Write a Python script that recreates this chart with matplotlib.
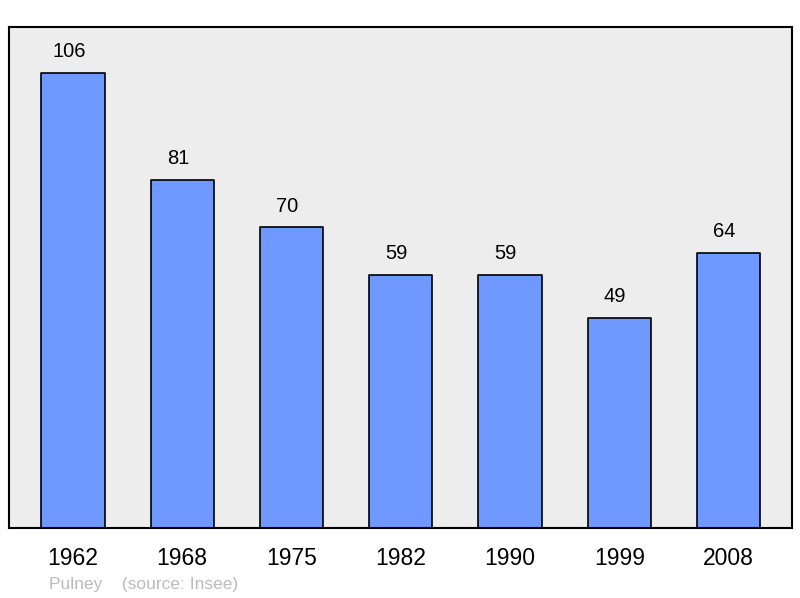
import matplotlib
matplotlib.use("Agg")
import matplotlib.pyplot as plt

years = ["1962", "1968", "1975", "1982", "1990", "1999", "2008"]
population = [106, 81, 70, 59, 59, 49, 64]

plt.rcParams['font.family'] = ['Liberation Sans', 'DejaVu Sans']

fig = plt.figure(figsize=(8, 5.98), dpi=100)
ax = fig.add_axes([9/800, 70/598, 783/800, 501/598])
ax.set_facecolor('#ededed')

x = list(range(len(years)))
bars = ax.bar(x, population, width=0.58, color='#7099ff', edgecolor='black', linewidth=1.2)
for b in bars:
    b.set_joinstyle('round')

ax.set_xlim(-0.585, 6.58)
ax.set_ylim(0, 116.7)

for xi, v in zip(x, population):
    ax.annotate(str(v), (xi, v), xytext=(-3, 8.5), textcoords='offset points',
                ha='center', va='bottom', fontsize=14.5, color='black')

ax.set_xticks(x)
ax.set_xticklabels(years, fontsize=16.5)
ax.tick_params(axis='x', length=0, pad=14)
ax.set_yticks([])
for s in ax.spines.values():
    s.set_linewidth(1.5)
    s.set_color('black')

fig.text(49/800, 1 - 584/598, "Pulney    (source: Insee)", fontsize=12.5, color='#bbbbbb',
         ha='left', va='center')

fig.savefig("out.png", dpi=100)
